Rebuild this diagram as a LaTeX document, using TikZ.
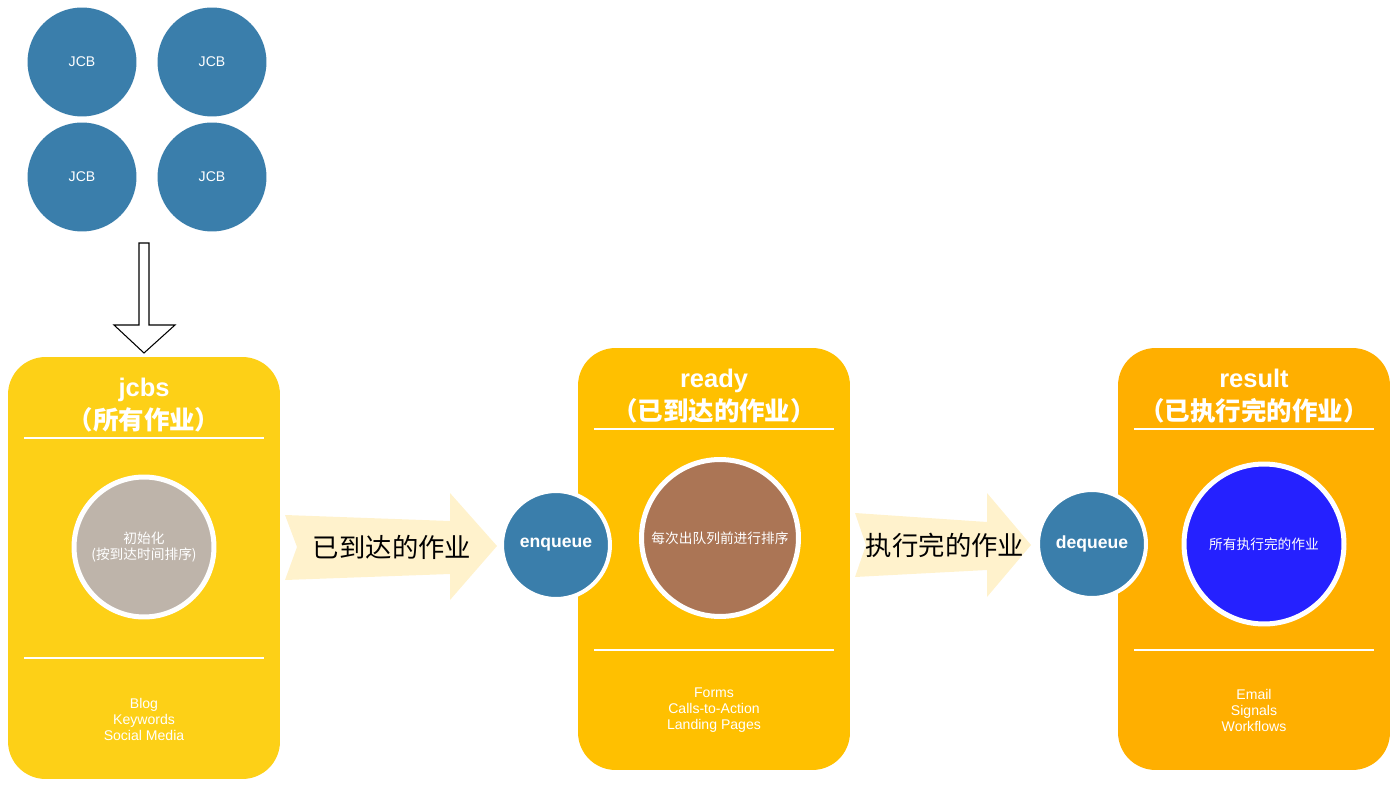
\documentclass[tikz,border=0pt]{standalone}
\usepackage{fontspec}
\setmainfont{Liberation Sans}
\newfontfamily\cjk{Noto Sans CJK SC}
\usetikzlibrary{positioning}
\definecolor{jcbblue}{HTML}{3A7EAB}
\definecolor{jcbsyellow}{HTML}{FDD017}
\definecolor{readyyellow}{HTML}{FFC000}
\definecolor{resultorange}{HTML}{FFAF00}
\definecolor{flowcream}{HTML}{FFF2CC}
\definecolor{initgray}{HTML}{BEB4AA}
\definecolor{sortbrown}{HTML}{AB7555}
\definecolor{doneblue}{HTML}{2521FF}

\begin{document}
\begin{tikzpicture}[x=0.02cm, y=-0.02cm,
  jcb/.style={circle, fill=jcbblue, minimum size=2.18cm, inner sep=0pt, text=white, font=\fontsize{8}{10}\selectfont},
  card/.style={rectangle, rounded corners=0.75cm, minimum width=5.44cm, minimum height=8.44cm, inner sep=0pt},
  cardtitle/.style={text=white, align=center, font=\bfseries\fontsize{14.5}{18.7}\selectfont},
  cardline/.style={white, line width=1.1pt},
  cardlist/.style={text=white, align=center, font=\fontsize{8}{9.1}\selectfont},
  inner/.style={circle, draw=white, line width=0.1cm, inner sep=0pt, text=white, align=center, font=\cjk\fontsize{7.8}{9.1}\selectfont},
  queue/.style={circle, fill=jcbblue, draw=white, line width=0.08cm, minimum size=2.16cm, inner sep=0pt, text=white, font=\bfseries\fontsize{10}{12}\selectfont},
  flow/.style={fill=flowcream},
  flowlabel/.style={font=\cjk\fontsize{15}{18}\selectfont}]
\useasboundingbox (0,0) rectangle (1399,787);
% jobs
\node[jcb] (j1) at (82,62) {JCB};
\node[jcb] (j2) at (212,62) {JCB};
\node[jcb] (j3) at (82,177) {JCB};
\node[jcb] (j4) at (212,177) {JCB};
\draw[fill=white, line width=0.6pt] (139,243) -- (149,243) -- (149,325) -- (175,325)
  -- (144,353) -- (114,325) -- (139,325) -- cycle;
% cards
\node[card, fill=jcbsyellow] (jcbs) at (144,568) {};
\node[card, fill=readyyellow] (ready) at (714,559) {};
\node[card, fill=resultorange] (result) at (1254,559) {};
\node[cardtitle] (jcbs-t) at (144,405) {jcbs\\{\cjk （所有作业）}};
\node[cardtitle] (ready-t) at (714,396) {ready\\{\cjk （已到达的作业）}};
\node[cardtitle] (result-t) at (1254,396) {result\\{\cjk （已执行完的作业）}};
\draw[cardline] (24,438) -- (264,438);
\draw[cardline] (24,658) -- (264,658);
\draw[cardline] (594,429) -- (834,429);
\draw[cardline] (594,650) -- (834,650);
\draw[cardline] (1134,429) -- (1374,429);
\draw[cardline] (1134,650) -- (1374,650);
\node[inner, fill=initgray, minimum size=2.8cm] (init) at (144,547) {初始化\\(按到达时间排序)};
\node[inner, fill=sortbrown, minimum size=3.14cm] (sort) at (720,538) {每次出队列前进行排序};
\node[inner, fill=doneblue, minimum size=3.2cm] (done) at (1264,544) {所有执行完的作业};
\node[cardlist] (jcbs-l) at (144,719) {Blog\\Keywords\\Social Media};
\node[cardlist] (ready-l) at (714,710) {Forms\\Calls-to-Action\\Landing Pages};
\node[cardlist] (result-l) at (1254,710) {Email\\Signals\\Workflows};
% flow arrows
\fill[flow] (285,515) -- (450,521) -- (450,493) -- (497,546) -- (450,600) -- (450,574)
  -- (285,580) -- (297,547) -- cycle;
\fill[flow] (855,513) -- (987,522) -- (987,493) -- (1031,545) -- (987,597) -- (987,570)
  -- (855,577) -- (866,545) -- cycle;
\node[flowlabel] (arrived) at (392,547) {已到达的作业};
\node[flowlabel] (finished) at (945,545) {执行完的作业};
\node[queue] (enq) at (556,545) {enqueue};
\node[queue] (deq) at (1092,544) {dequeue};
\end{tikzpicture}
\end{document}
